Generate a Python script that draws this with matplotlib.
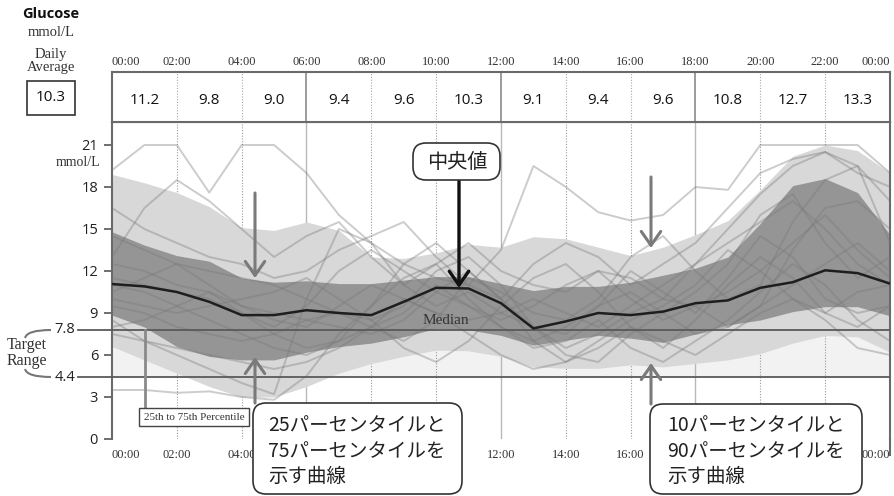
import numpy as np
import matplotlib
matplotlib.use("Agg")
import matplotlib.pyplot as plt
from matplotlib.patches import FancyBboxPatch, FancyArrowPatch, Rectangle, PathPatch
from matplotlib.path import Path
from matplotlib.lines import Line2D

plt.rcParams['font.family'] = ['Open Sans', 'Noto Sans CJK JP', 'DejaVu Sans']
SERIF = ['Liberation Serif', 'DejaVu Serif']
SANS = ['Open Sans', 'DejaVu Sans']
CJK = ['Noto Sans CJK JP', 'DejaVu Sans']

# ---- data (mmol/L, read hourly from the profile) ----
hours = list(range(25))
p10 = [6.6, 5.65, 4.7, 3.75, 3.0, 3.0, 3.75, 4.7, 5.4, 5.9, 6.35, 6.3, 5.9,
       5.15, 5.05, 5.05, 5.3, 5.15, 5.4, 5.65, 6.1, 6.85, 7.4, 7.3, 6.2]
p25 = [8.85, 8.0, 6.6, 5.9, 5.65, 5.65, 6.2, 6.6, 6.85, 7.3, 7.9, 7.8, 7.4,
       6.7, 7.05, 7.4, 7.2, 6.9, 7.5, 8.15, 8.5, 9.1, 9.45, 9.45, 8.8]
median = [11.07, 10.9, 10.5, 9.8, 8.85, 8.85, 9.2, 9.0, 8.85, 9.8, 10.8, 10.75, 9.7,
          7.9, 8.4, 9.0, 8.85, 9.1, 9.7, 9.9, 10.8, 11.2, 12.05, 11.85, 11.1]
p75 = [14.8, 13.85, 13.1, 12.7, 11.5, 11.2, 11.3, 11.1, 11.1, 11.35, 11.6, 11.6, 11.1,
       10.6, 10.9, 10.9, 11.2, 11.7, 12.2, 13.0, 15.4, 18.1, 18.6, 17.6, 14.6]
p90 = [18.9, 18.3, 17.6, 16.6, 15.1, 14.9, 15.5, 14.9, 13.0, 12.9, 13.3, 13.9, 13.7,
       14.45, 14.3, 13.7, 13.1, 13.7, 14.6, 15.6, 17.8, 20.2, 21.0, 20.6, 19.0]

# individual days
day01 = [19.2, 21, 21, 17.6, 21, 21, 19.0, 16.0, 14.0, 12.5, 11.5, 11.0, 13.5,
         19.5, 18.0, 16.2, 15.6, 16.0, 18.0, 17.8, 21, 21, 21, 21, 19.0]
day02 = [13.0, 16.5, 18.5, 17.0, 15.0, 13.0, 14.5, 15.5, 13.0, 11.0, 12.5, 14.0, 12.0,
         11.0, 10.5, 12.0, 11.5, 10.0, 12.5, 15.0, 17.5, 19.5, 20.5, 19.0, 18.0]
day03 = [8.5, 7.0, 6.0, 5.0, 4.0, 3.2, 10.0, 15.0, 14.0, 11.0, 9.5, 10.5, 9.0,
         8.0, 7.5, 9.5, 12.0, 10.5, 9.0, 11.5, 14.5, 13.0, 10.0, 9.0, 9.5]
day04 = [3.5, 3.5, 3.3, 3.4, 3.0, 2.8, 4.5, 7.5, 9.5, 11.5, 12.5, 10.0, 8.0,
         6.5, 7.0, 8.5, 6.5, 5.5, 7.0, 8.5, 10.5, 12.5, 11.0, 8.5, 7.0]
day05 = [11.0, 10.5, 9.5, 8.5, 7.5, 6.5, 6.0, 7.0, 9.5, 12.5, 14.0, 12.0, 10.0,
         8.0, 6.5, 7.5, 9.0, 10.0, 9.5, 8.0, 9.5, 13.5, 16.5, 17.0, 15.0]
day06 = [12.5, 12.0, 11.0, 10.5, 9.5, 9.0, 8.5, 9.0, 8.0, 7.0, 8.5, 11.5, 10.5,
         9.0, 8.5, 10.0, 13.0, 14.5, 12.0, 10.0, 11.0, 15.5, 18.5, 19.5, 14.0]
day07 = [10.0, 9.5, 9.0, 9.5, 10.0, 10.5, 11.5, 10.0, 8.5, 6.5, 5.5, 7.0, 9.5,
         11.5, 12.5, 10.5, 8.0, 6.5, 8.5, 11.0, 13.0, 11.5, 9.0, 8.0, 9.5]
day08 = [14.5, 13.5, 12.5, 12.0, 11.5, 11.0, 10.0, 9.0, 8.5, 9.5, 12.0, 13.0, 11.0,
         8.0, 6.0, 5.5, 7.5, 9.0, 10.5, 12.5, 16.0, 17.5, 14.0, 11.5, 13.0]
day09 = [7.5, 7.0, 6.5, 6.0, 5.5, 5.0, 5.5, 6.5, 8.0, 10.0, 9.0, 7.5, 6.0,
         5.0, 5.5, 7.0, 8.5, 9.5, 11.0, 13.5, 12.0, 10.0, 9.0, 10.5, 11.0]
day10 = [16.5, 15.0, 14.0, 13.0, 12.5, 11.5, 12.0, 13.5, 14.5, 15.5, 13.0, 11.0, 10.0,
         12.5, 14.0, 13.0, 11.0, 12.5, 14.0, 16.5, 19.0, 20.0, 20.5, 19.5, 17.0]
day11 = [9.5, 9.0, 8.0, 7.5, 7.0, 7.5, 8.5, 8.0, 7.5, 8.5, 10.5, 12.0, 10.0,
         7.0, 5.5, 6.5, 8.0, 7.0, 6.0, 7.5, 9.0, 10.0, 8.5, 6.5, 6.0]
day12 = [11.5, 11.0, 10.5, 10.0, 9.0, 8.0, 9.5, 12.0, 13.5, 12.0, 10.5, 9.5, 8.5,
         9.5, 11.0, 12.0, 10.0, 8.5, 9.5, 10.5, 12.0, 14.0, 16.0, 13.5, 11.5]
day13 = [10.5, 11.5, 12.5, 11.0, 9.5, 8.5, 8.0, 9.5, 11.0, 10.0, 9.0, 8.5, 9.0,
         10.0, 9.0, 8.0, 9.5, 11.0, 12.5, 14.0, 15.5, 17.0, 15.0, 12.5, 11.0]
day14 = [8.0, 8.5, 9.5, 10.5, 9.0, 7.5, 6.5, 7.0, 8.0, 9.0, 11.0, 9.5, 8.0,
         7.0, 8.0, 9.5, 10.5, 9.0, 7.5, 8.0, 9.5, 11.0, 12.5, 14.0, 12.0]
days = [day01, day02, day03, day04, day05, day06, day07, day08, day09, day10,
        day11, day12, day13, day14]

time_labels = ['00:00', '02:00', '04:00', '06:00', '08:00', '10:00', '12:00',
               '14:00', '16:00', '18:00', '20:00', '22:00', '00:00']
# bottom labels that stay visible (others sit under the callout boxes)
bottom_labels = ['00:00', '02:00', '04:00', '', '', '', '12:00',
                 '14:00', '16:00', '', '', '', '00:00']
two_hour_avg = [11.2, 9.8, 9.0, 9.4, 9.6, 10.3, 9.1, 9.4, 9.6, 10.8, 12.7, 13.3]
daily_avg = 10.3
target_low, target_high = 4.4, 7.8
y_ticks = [0, 3, 6, 9, 12, 15, 18, 21]

W, H = 895, 496
fig = plt.figure(figsize=(W / 100, H / 100), dpi=100)


def fx(x):
    return x / W


def fy(y):
    return 1 - y / H


def inch(x, y):
    return (x / 100, (H - y) / 100)


# ---- main profile ----
ax = fig.add_axes([fx(112), fy(439), 778 / W, 317 / H])
ax.set_xlim(0, 24)
ax.set_ylim(0, 317 / 14)

ax.axhspan(target_low, target_high, color='#f2f2f2', lw=0, zorder=0)
for h in range(2, 24, 2):
    if h % 6 == 0:
        ax.axvline(h, color='#b8b8b8', lw=1.0, zorder=0.5)
    else:
        ax.axvline(h, color='#9a9a9a', lw=0.8, ls=(0, (1, 1.5)), zorder=0.5)

ax.fill_between(hours, p10, p90, color='#d8d8d8', lw=0, zorder=1)
ax.fill_between(hours, p25, p75, color='#959595', lw=0, zorder=2)
for d in days:
    ax.plot(hours, d, color='#7a7a7a', alpha=0.38, lw=1.4, zorder=3)
ax.axhline(target_high, color='#5a5a5a', lw=1.3, zorder=4)
ax.axhline(target_low, color='#5a5a5a', lw=1.3, zorder=4)
ax.plot(hours, median, color='#1e1e1e', lw=1.8, zorder=5)

for side in ['left', 'right', 'top']:
    ax.spines[side].set_color('#6a6a6a')
    ax.spines[side].set_linewidth(1.5)
ax.spines['bottom'].set_visible(False)

ax.set_yticks(y_ticks)
ax.set_yticklabels([str(v) for v in y_ticks], fontfamily=SANS, fontsize=10.5, color='#222')
ax.tick_params(axis='y', length=6, width=1.2, color='#555', pad=4)
ax.set_xticks(range(0, 25, 2))
xl = ax.set_xticklabels(bottom_labels, fontfamily=SERIF, fontsize=9, color='#333')
xl[0].set_ha('left')
xl[-1].set_ha('right')
ax.tick_params(axis='x', length=0, pad=7)

fig.add_artist(Line2D([fx(890), fx(890)], [fy(439), fy(455)], color='#6a6a6a', lw=1.5))

# ---- header row of two-hour averages ----
axh = fig.add_axes([fx(112), fy(122), 778 / W, 50 / H])
axh.set_xlim(0, 24)
axh.set_ylim(0, 1)
for h in range(2, 24, 2):
    if h % 6 == 0:
        axh.axvline(h, color='#8a8a8a', lw=1.2)
    else:
        axh.axvline(h, color='#a8a8a8', lw=0.8, ls=(0, (1, 1.5)))
for i, v in enumerate(two_hour_avg):
    axh.text(2 * i + 1, 0.44, f'{v:.1f}', ha='center', va='center',
             fontfamily=SANS, fontsize=11, color='#111')
for s in axh.spines.values():
    s.set_color('#6a6a6a')
    s.set_linewidth(1.5)
axh.set_yticks([])
axh.xaxis.tick_top()
axh.set_xticks(range(0, 25, 2))
hl = axh.set_xticklabels(time_labels, fontfamily=SERIF, fontsize=9, color='#333')
hl[0].set_ha('left')
hl[-1].set_ha('right')
axh.tick_params(axis='x', length=0, pad=3)

# ---- left column ----
fig.text(fx(51), fy(14), 'Glucose', ha='center', va='center', fontfamily=SANS,
         fontsize=10.5, fontweight='bold', color='#111')
fig.text(fx(51), fy(32), 'mmol/L', ha='center', va='center', fontfamily=SERIF,
         fontsize=10.5, color='#333')
fig.text(fx(51), fy(61), 'Daily\nAverage', ha='center', va='center', fontfamily=SERIF,
         fontsize=10.5, color='#333', linespacing=1.0)
fig.add_artist(Rectangle((fx(27), fy(115)), 48 / W, 34 / H, transform=fig.transFigure,
                         fill=False, ec='#333', lw=1.2))
fig.text(fx(51), fy(98), f'{daily_avg:.1f}', ha='center', va='center', fontfamily=SANS,
         fontsize=11, color='#111')
fig.text(fx(100), fy(162), 'mmol/L', ha='right', va='center', fontfamily=SERIF,
         fontsize=10, color='#333')

# target range labels
for val in (target_high, target_low):
    ypx = 439 - val * 14
    fig.text(fx(75), fy(ypx), f'{val}', ha='right', va='center', fontfamily=SANS,
             fontsize=10.5, color='#222')
    fig.add_artist(Line2D([fx(78), fx(112)], [fy(ypx), fy(ypx)], color='#5a5a5a', lw=1.3))
for pts in ([(51, 330), (27, 330), (25, 338)], [(25, 369), (27, 377), (51, 377)]):
    verts = [(fx(px), fy(py)) for px, py in pts]
    fig.add_artist(PathPatch(Path(verts, [Path.MOVETO, Path.CURVE3, Path.CURVE3]),
                             transform=fig.transFigure, fill=False, ec='#777', lw=1.5))
fig.text(fx(27), fy(353), 'Target\nRange', ha='center', va='center', fontfamily=SERIF,
         fontsize=11.5, color='#333', linespacing=1.0)

# ---- annotations ----
fig.text(fx(446), fy(320), 'Median', ha='center', va='center', fontfamily=SERIF,
         fontsize=11, color='#333')
fig.add_artist(Line2D([fx(145), fx(145)], [fy(330), fy(407)], color='#8a8a8a', lw=2))
fig.text(fx(194), fy(417), '25th to 75th Percentile', ha='center', va='center',
         fontfamily=SERIF, fontsize=8, color='#333',
         bbox=dict(boxstyle='square,pad=0.4', fc='white', ec='#444', lw=1))


def rbox(x0, y0, x1, y1):
    bx, by = inch(x0, y1)
    fig.add_artist(FancyBboxPatch((bx, by), (x1 - x0) / 100, (y1 - y0) / 100,
                                  boxstyle='round,pad=0,rounding_size=0.13',
                                  transform=fig.dpi_scale_trans, fc='white',
                                  ec='#333', lw=1.2, zorder=10))


def arrow(x, y0, y1, color, lw):
    fig.add_artist(FancyArrowPatch(inch(x, y0), inch(x, y1), transform=fig.dpi_scale_trans,
                                   arrowstyle='->,head_length=0.5,head_width=0.35',
                                   mutation_scale=20, lw=lw, color=color,
                                   shrinkA=0, shrinkB=0, zorder=9))


rbox(413, 143, 500, 180)
fig.text(fx(457), fy(162), '中央値', ha='center', va='center', fontfamily=CJK,
         fontsize=14.5, color='#222', zorder=11)
arrow(459, 180, 288, '#111', 2.4)

arrow(255, 193, 278, '#7a7a7a', 2.2)
arrow(255, 403, 357, '#7a7a7a', 2.2)
arrow(651, 177, 248, '#7a7a7a', 2.2)
arrow(651, 404, 363, '#7a7a7a', 2.2)

rbox(253, 403, 462, 494)
for i, line in enumerate(['25パーセンタイルと', '75パーセンタイルを', '示す曲線']):
    fig.text(fx(268), fy(426 + 25 * i), line, ha='left', va='center', fontfamily=CJK,
             fontsize=14, color='#222', zorder=11)
rbox(650, 404, 862, 494)
for i, line in enumerate(['10パーセンタイルと', '90パーセンタイルを', '示す曲線']):
    fig.text(fx(667), fy(426 + 25 * i), line, ha='left', va='center', fontfamily=CJK,
             fontsize=14, color='#222', zorder=11)

fig.savefig('out.png', dpi=100)
